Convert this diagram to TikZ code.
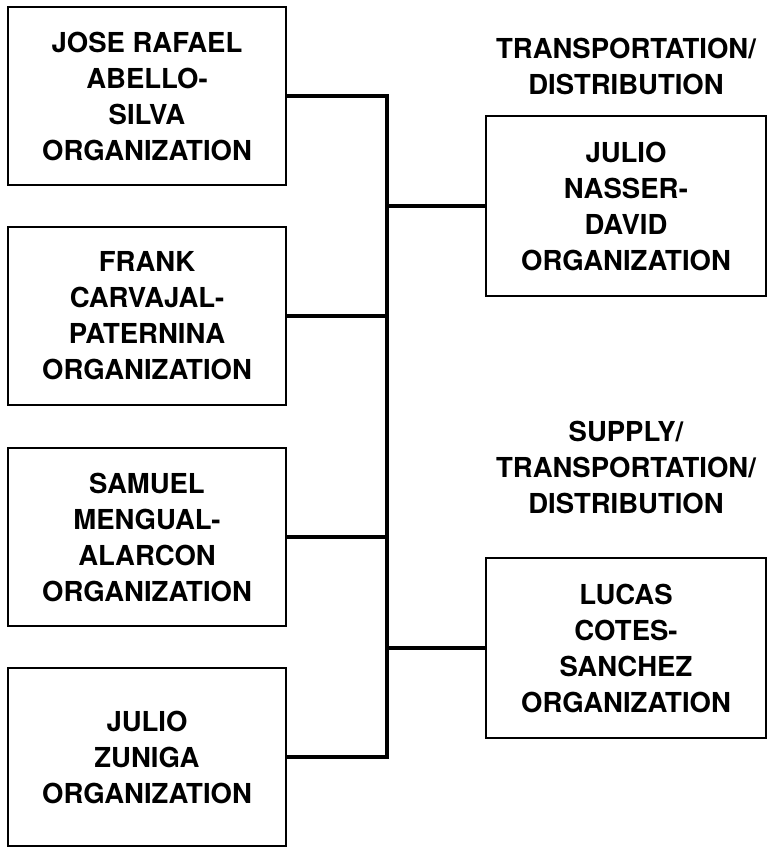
\documentclass[tikz,border=0pt]{standalone}
\usepackage{fontspec}
\setmainfont{TeX Gyre Heros}
\begin{document}
\begin{tikzpicture}[x=1pt,y=-1pt,
  orgbox/.style={draw=black, line width=2.4pt, minimum width=278pt, minimum height=178pt,
    inner sep=0pt, align=center, font=\bfseries\fontsize{27.5}{36}\selectfont},
  rbox/.style={orgbox, minimum width=280pt, minimum height=180pt},
  lbl/.style={align=center, inner sep=0pt, font=\bfseries\fontsize{27.5}{36}\selectfont},
  conn/.style={draw=black, line width=3.4pt, line join=miter}]
\useasboundingbox (0,0) rectangle (770,849);
\node[orgbox] (a) at (147,96) {JOSE RAFAEL\\ABELLO-\\SILVA\\ORGANIZATION};
\node[orgbox] (b) at (147,316) {FRANK\\CARVAJAL-\\PATERNINA\\ORGANIZATION};
\node[orgbox] (c) at (147,537) {SAMUEL\\MENGUAL-\\ALARCON\\ORGANIZATION};
\node[orgbox] (d) at (147,757) {JULIO\\ZUNIGA\\ORGANIZATION};
\node[rbox] (e) at (626,206) {JULIO\\NASSER-\\DAVID\\ORGANIZATION};
\node[rbox] (f) at (626,648) {LUCAS\\COTES-\\SANCHEZ\\ORGANIZATION};
\node[lbl] (le) at (626,66) {TRANSPORTATION/\\DISTRIBUTION};
\node[lbl] (lf) at (626,467) {SUPPLY/\\TRANSPORTATION/\\DISTRIBUTION};
\coordinate (bb) at (387,757);
\draw[conn] (a.east) -| (bb) -- (d.east);
\draw[conn] (b.east) -- (b.east -| bb);
\draw[conn] (c.east) -- (c.east -| bb);
\draw[conn] (e.west) -- (e.west -| bb);
\draw[conn] (f.west) -- (f.west -| bb);
\end{tikzpicture}
\end{document}
